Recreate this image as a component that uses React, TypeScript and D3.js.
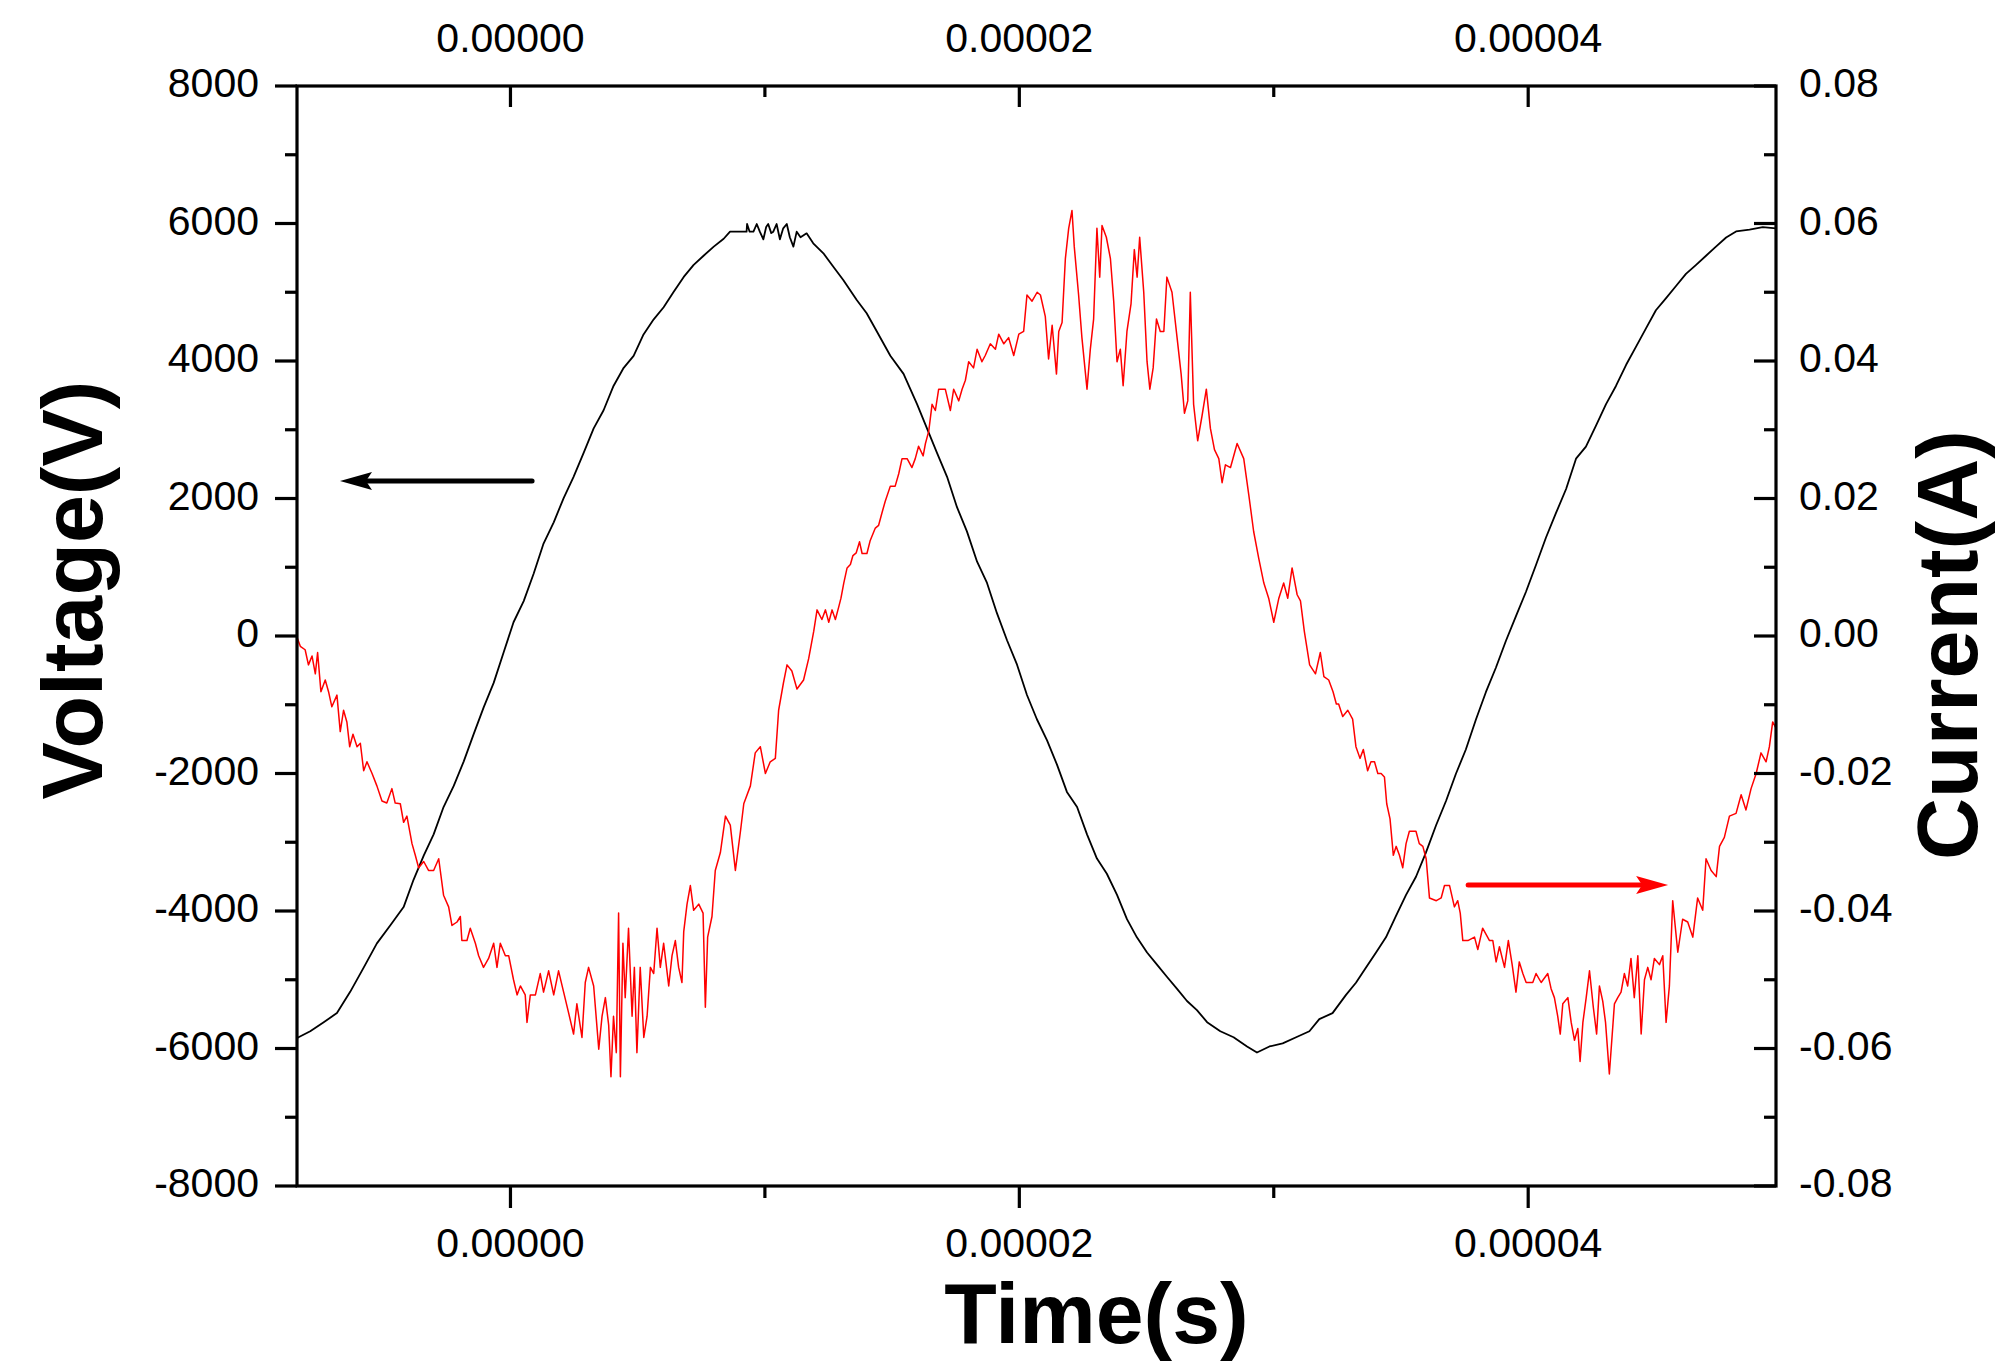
import React, { useEffect } from "react";
import * as d3 from "d3";

// ---------- layout ----------
const W = 2008;
const H = 1369;
const PLOT = { left: 297, right: 1776, top: 86, bottom: 1186 };
const FONT = "'Liberation Sans', Arial, Helvetica, sans-serif";

// ---------- axes ----------
const timeDomainUs = [-8.39, 49.74];
const voltageDomain = [-8000, 8000];
const currentDomain = [-0.08, 0.08];

const timeMajorUs = [0, 20, 40];
const timeMajorLabels = ["0.00000", "0.00002", "0.00004"];
const timeMinorUs = [10, 30];

const voltageMajor = [8000, 6000, 4000, 2000, 0, -2000, -4000, -6000, -8000];
const voltageLabels = ["8000", "6000", "4000", "2000", "0", "-2000", "-4000", "-6000", "-8000"];
const voltageMinor = [7000, 5000, 3000, 1000, -1000, -3000, -5000, -7000];

const currentMajor = [0.08, 0.06, 0.04, 0.02, 0, -0.02, -0.04, -0.06, -0.08];
const currentLabels = ["0.08", "0.06", "0.04", "0.02", "0.00", "-0.02", "-0.04", "-0.06", "-0.08"];
const currentMinor = [0.07, 0.05, 0.03, 0.01, -0.01, -0.03, -0.05, -0.07];

// ---------- data: voltage [time in µs, volts] ----------
const voltageSeries: [number, number][] = [
  [-8.39, -5850], [-8.33, -5837], [-7.87, -5749], [-7.34, -5617], [-6.82, -5485], [-6.30, -5176],
  [-5.77, -4824], [-5.25, -4471], [-4.72, -4207], [-4.20, -3943], [-3.81, -3546], [-3.41, -3194],
  [-3.02, -2885], [-2.63, -2488], [-2.23, -2180], [-1.84, -1827], [-1.45, -1431], [-1.05, -1034],
  [-0.66, -682], [-0.27, -241], [0.12, 200], [0.52, 508], [0.91, 905], [1.30, 1345], [1.70, 1654],
  [2.09, 2006], [2.48, 2315], [2.88, 2667], [3.27, 3020], [3.66, 3284], [4.05, 3637], [4.45, 3901],
  [4.84, 4075], [5.23, 4386], [5.63, 4606], [6.02, 4782], [6.41, 5003], [6.81, 5223], [7.20, 5399],
  [7.59, 5531], [7.99, 5664], [8.38, 5778], [8.63, 5881], [9.28, 5881], [9.30, 5993], [9.40, 5881],
  [9.55, 5881], [9.68, 5993], [9.80, 5881], [9.94, 5770], [10.05, 5950], [10.13, 5993],
  [10.25, 5860], [10.33, 5881], [10.46, 5993], [10.59, 5770], [10.72, 5930], [10.86, 5993],
  [10.98, 5800], [11.12, 5663], [11.25, 5881], [11.40, 5800], [11.64, 5857], [11.90, 5712],
  [12.30, 5566], [12.69, 5372], [13.08, 5178], [13.61, 4887], [14.00, 4694], [14.33, 4476],
  [14.93, 4077], [15.45, 3813],
  [15.98, 3372], [16.37, 3020], [16.76, 2667], [17.16, 2315], [17.55, 1874], [17.94, 1522],
  [18.34, 1081], [18.73, 772], [19.12, 332], [19.52, -65], [19.91, -417], [20.30, -858],
  [20.69, -1211], [21.09, -1519], [21.48, -1871], [21.87, -2268], [22.27, -2488], [22.66, -2885],
  [23.05, -3238], [23.44, -3458], [23.84, -3766], [24.23, -4119], [24.62, -4383], [25.02, -4603],
  [25.41, -4780], [25.80, -4956], [26.20, -5132], [26.59, -5309], [26.98, -5441], [27.38, -5617],
  [27.90, -5749], [28.42, -5837], [28.95, -5970], [29.34, -6058],
  [29.83, -5970], [30.35, -5926], [30.88, -5837], [31.40, -5749], [31.79, -5573], [32.31, -5485],
  [32.84, -5220], [33.23, -5044], [33.62, -4824], [34.02, -4603], [34.41, -4383], [34.80, -4075],
  [35.20, -3766], [35.59, -3502], [35.98, -3150], [36.38, -2753], [36.77, -2400], [37.16, -2004],
  [37.55, -1651], [37.95, -1211], [38.34, -814], [38.73, -462], [39.13, -65], [39.52, 288],
  [39.91, 640], [40.31, 1037], [40.70, 1433], [41.09, 1786], [41.49, 2138], [41.88, 2579],
  [42.27, 2755], [42.67, 3064], [43.06, 3372], [43.45, 3637], [43.85, 3945], [44.24, 4209],
  [44.63, 4474], [45.02, 4738], [45.42, 4915], [45.81, 5091], [46.20, 5267], [46.60, 5399],
  [46.99, 5531], [47.38, 5664], [47.78, 5796], [48.17, 5884], [48.70, 5910], [49.22, 5946],
  [49.74, 5928],
];

// ---------- data: current [time in µs, amperes] ----------
const currentSeries: [number, number][] = [
  [-8.39, -0.0002], [-8.26, -0.0015], [-8.07, -0.002], [-7.94, -0.0042], [-7.8, -0.0029],
  [-7.67, -0.0055], [-7.58, -0.0024], [-7.45, -0.0081], [-7.28, -0.0064], [-7.15, -0.0081],
  [-7.02, -0.0103], [-6.82, -0.0086], [-6.69, -0.0139], [-6.56, -0.0108], [-6.43, -0.0125],
  [-6.32, -0.0161], [-6.19, -0.0143], [-6.03, -0.0161], [-5.9, -0.0156], [-5.77, -0.0196],
  [-5.64, -0.0183], [-5.44, -0.02], [-5.25, -0.0218], [-5.05, -0.024], [-4.86, -0.0243],
  [-4.66, -0.0222], [-4.53, -0.0243], [-4.33, -0.0244], [-4.2, -0.0271], [-4.07, -0.0262],
  [-3.87, -0.0302], [-3.74, -0.0319], [-3.61, -0.0337], [-3.41, -0.0328], [-3.22, -0.0341],
  [-3.02, -0.0341], [-2.82, -0.0324], [-2.63, -0.0377], [-2.43, -0.0394], [-2.3, -0.0421],
  [-2.1, -0.0416], [-1.97, -0.0408], [-1.91, -0.0443], [-1.71, -0.0443], [-1.58, -0.0425],
  [-1.38, -0.0447], [-1.25, -0.0465], [-1.06, -0.0482], [-0.86, -0.0469], [-0.66, -0.0447],
  [-0.53, -0.0482], [-0.4, -0.0447], [-0.2, -0.0465], [-0.07, -0.0465], [0.12, -0.05],
  [0.26, -0.0522], [0.39, -0.0509], [0.58, -0.0522], [0.65, -0.0562], [0.78, -0.0522],
  [0.98, -0.0522], [1.17, -0.0491], [1.3, -0.0518], [1.5, -0.0487], [1.7, -0.0522],
  [1.89, -0.0487], [2.09, -0.0518], [2.29, -0.0549], [2.48, -0.0579], [2.61, -0.0535],
  [2.81, -0.0584], [2.94, -0.0504], [3.07, -0.0482], [3.27, -0.0509], [3.47, -0.0601],
  [3.6, -0.0553], [3.73, -0.0526], [3.86, -0.0566], [3.95, -0.0641], [4.05, -0.0553],
  [4.16, -0.0606], [4.25, -0.0403], [4.32, -0.0641], [4.42, -0.0447], [4.51, -0.0526],
  [4.64, -0.0425], [4.78, -0.0553], [4.87, -0.0482], [4.97, -0.0606], [5.1, -0.0482],
  [5.24, -0.0584], [5.37, -0.0553], [5.5, -0.0482], [5.63, -0.0491], [5.76, -0.0425],
  [5.89, -0.0482], [6.02, -0.0447], [6.22, -0.0509], [6.35, -0.0465], [6.48, -0.0443],
  [6.61, -0.0482], [6.74, -0.0504], [6.81, -0.043], [6.94, -0.039], [7.07, -0.0363],
  [7.2, -0.0399], [7.4, -0.039], [7.57, -0.0403], [7.66, -0.054], [7.75, -0.0438],
  [7.92, -0.0408], [8.05, -0.0341], [8.25, -0.0315], [8.45, -0.0262], [8.64, -0.0275],
  [8.84, -0.0341], [9.04, -0.0284], [9.17, -0.0244], [9.43, -0.0218], [9.62, -0.017],
  [9.82, -0.0161], [10.02, -0.02], [10.21, -0.0183], [10.41, -0.0178], [10.54, -0.0108],
  [10.73, -0.0068], [10.87, -0.0042], [11.06, -0.0051], [11.26, -0.0077], [11.52, -0.0064],
  [11.72, -0.0033], [11.92, 0.0007],
  [12.05, 0.0038], [12.24, 0.0024], [12.38, 0.0038], [12.51, 0.002], [12.64, 0.0038],
  [12.77, 0.0024], [12.9, 0.0042], [12.99, 0.0055], [13.1, 0.0077], [13.23, 0.0099],
  [13.36, 0.0104], [13.46, 0.0117], [13.59, 0.0121], [13.72, 0.0137], [13.82, 0.012],
  [14.01, 0.012], [14.14, 0.0139], [14.34, 0.0157], [14.47, 0.0161], [14.6, 0.0179],
  [14.73, 0.0196], [14.93, 0.0218], [15.12, 0.0218], [15.26, 0.0236], [15.39, 0.0258],
  [15.59, 0.0258], [15.78, 0.0245], [15.91, 0.0258], [16.04, 0.0276], [16.22, 0.0262],
  [16.31, 0.028], [16.44, 0.0298], [16.57, 0.0337], [16.7, 0.0328], [16.83, 0.0359],
  [17.09, 0.0359], [17.29, 0.0328], [17.42, 0.0359], [17.62, 0.0342], [17.75, 0.0359],
  [17.88, 0.0372], [18.01, 0.0399], [18.2, 0.039], [18.34, 0.0417], [18.53, 0.0399],
  [18.66, 0.0408], [18.86, 0.0425], [19.06, 0.0417], [19.19, 0.0439], [19.39, 0.0425],
  [19.58, 0.0434], [19.78, 0.0408], [19.98, 0.0439], [20.17, 0.0443], [20.3, 0.0496],
  [20.5, 0.0487], [20.7, 0.05], [20.83, 0.0496], [21.02, 0.0465], [21.15, 0.0403],
  [21.29, 0.0452], [21.46, 0.0381], [21.55, 0.0443], [21.68, 0.0456], [21.81, 0.0549],
  [21.94, 0.0593], [22.07, 0.0619], [22.16, 0.0566], [22.33, 0.0496], [22.46, 0.0434],
  [22.66, 0.0359], [22.79, 0.0417], [22.92, 0.0461], [23.05, 0.0593], [23.16, 0.0522],
  [23.25, 0.0597], [23.42, 0.058], [23.58, 0.0549], [23.71, 0.0487], [23.84, 0.0399],
  [23.97, 0.0417], [24.08, 0.0364], [24.23, 0.0443], [24.39, 0.0483], [24.52, 0.0562],
  [24.63, 0.0522], [24.73, 0.058], [24.89, 0.05], [25.02, 0.0399], [25.13, 0.0359],
  [25.26, 0.039], [25.39, 0.0461], [25.54, 0.0443], [25.68, 0.0443], [25.8, 0.0522],
  [26.0, 0.05], [26.2, 0.0434], [26.36, 0.0381], [26.49, 0.0324], [26.62, 0.0342],
  [26.72, 0.05], [26.85, 0.0337], [27.01, 0.0284], [27.18, 0.032], [27.35, 0.0359],
  [27.51, 0.0302], [27.67, 0.0271], [27.84, 0.0258], [27.97, 0.0223], [28.1, 0.0249],
  [28.3, 0.0245], [28.56, 0.028], [28.82, 0.0258], [29.02, 0.0205], [29.21, 0.0152],
  [29.41, 0.0113], [29.61, 0.0077], [29.8, 0.0055], [30.0, 0.002], [30.2, 0.0055],
  [30.39, 0.0077], [30.55, 0.0055], [30.72, 0.0099], [30.92, 0.006], [31.05, 0.0051],
  [31.2, 0.0007], [31.41, -0.0042], [31.64, -0.0055], [31.83, -0.0024], [31.97, -0.0059],
  [32.16, -0.0064], [32.33, -0.0081], [32.46, -0.0099],
  [32.55, -0.0099], [32.71, -0.0117], [32.91, -0.0108], [33.1, -0.0121], [33.23, -0.0161],
  [33.39, -0.0178], [33.52, -0.0165], [33.69, -0.0196], [33.82, -0.0183], [33.96, -0.0183],
  [34.09, -0.02], [34.22, -0.02], [34.35, -0.0205], [34.44, -0.0244], [34.57, -0.0266],
  [34.7, -0.0319], [34.81, -0.0306], [34.94, -0.0319], [35.07, -0.0337], [35.2, -0.0302],
  [35.33, -0.0284], [35.59, -0.0284], [35.72, -0.0302], [35.86, -0.0306], [35.99, -0.0324],
  [36.12, -0.0381], [36.39, -0.0385], [36.58, -0.0381], [36.71, -0.0363], [36.91, -0.0363],
  [37.1, -0.0394], [37.23, -0.0385], [37.33, -0.0403], [37.43, -0.0443], [37.63, -0.0443],
  [37.89, -0.0438], [38.02, -0.0456], [38.21, -0.0425], [38.48, -0.0443], [38.61, -0.0443],
  [38.74, -0.0474], [38.87, -0.0452], [39.07, -0.0482], [39.22, -0.0443], [39.37, -0.0478],
  [39.52, -0.0518], [39.65, -0.0474], [39.79, -0.0491], [39.92, -0.0504], [40.18, -0.0504],
  [40.31, -0.0491], [40.51, -0.0504], [40.77, -0.0491], [40.9, -0.0513], [41.03, -0.0526],
  [41.16, -0.0553], [41.26, -0.0579], [41.36, -0.0535], [41.56, -0.0526], [41.69, -0.0562],
  [41.82, -0.0588], [41.95, -0.0571], [42.04, -0.0619], [42.15, -0.0562], [42.28, -0.0526],
  [42.41, -0.0487], [42.56, -0.054], [42.69, -0.0579], [42.8, -0.0509], [42.93, -0.0531],
  [43.04, -0.0562], [43.19, -0.0637], [43.39, -0.0535], [43.52, -0.0526], [43.65, -0.0518],
  [43.78, -0.0491], [43.91, -0.0509], [44.04, -0.0469], [44.17, -0.0526], [44.31, -0.0465],
  [44.44, -0.0579], [44.57, -0.05], [44.7, -0.0482], [44.83, -0.05], [44.96, -0.0469],
  [45.16, -0.0478], [45.29, -0.0465], [45.42, -0.0562], [45.55, -0.0509], [45.68, -0.0385],
  [45.88, -0.046], [46.07, -0.0412], [46.27, -0.0416], [46.47, -0.0438], [46.66, -0.0381],
  [46.86, -0.0399], [46.99, -0.0324], [47.19, -0.0341], [47.39, -0.035], [47.52, -0.0306],
  [47.71, -0.0293], [47.91, -0.0262], [48.17, -0.0258], [48.37, -0.0231], [48.56, -0.0253],
  [48.76, -0.0222], [48.96, -0.02], [49.15, -0.017], [49.35, -0.0183], [49.48, -0.0161],
  [49.61, -0.0125], [49.74, -0.0134],
];

// ---------- annotation arrows (data units) ----------
const voltageArrow = { fromUs: 0.85, toUs: -6.7, volts: 2255 };
const currentArrow = { fromUs: 37.64, toUs: 45.5, amps: -0.0362 };

export default function App() {
  useEffect(() => {
    document.body.style.margin = "0";
    document.body.style.overflow = "hidden";
  }, []);

  const x = d3
    .scaleLinear()
    .domain(timeDomainUs.map((d) => d * 1e-6))
    .range([PLOT.left, PLOT.right]);
  const yV = d3.scaleLinear().domain(voltageDomain).range([PLOT.bottom, PLOT.top]);
  const yI = d3.scaleLinear().domain(currentDomain).range([PLOT.bottom, PLOT.top]);

  const voltageLine = d3
    .line<[number, number]>()
    .x((d) => x(d[0] * 1e-6))
    .y((d) => yV(d[1]));
  const currentLine = d3
    .line<[number, number]>()
    .x((d) => x(d[0] * 1e-6))
    .y((d) => yI(d[1]));

  const axisW = 3.2;
  const majorLen = 22;
  const minorLen = 12;
  const tickFs = 41;
  const titleFs = 86;

  const arrowHead = (tipX: number, y: number, dir: number) => {
    const len = 32;
    const half = 9;
    return `M${tipX},${y} L${tipX - dir * len},${y - half} L${tipX - dir * (len - 6)},${y} L${tipX - dir * len},${y + half} Z`;
  };

  const vaY = yV(voltageArrow.volts);
  const vaFrom = x(voltageArrow.fromUs * 1e-6);
  const vaTo = x(voltageArrow.toUs * 1e-6);
  const caY = yI(currentArrow.amps);
  const caFrom = x(currentArrow.fromUs * 1e-6);
  const caTo = x(currentArrow.toUs * 1e-6);

  return (
    <svg
      width={W}
      height={H}
      viewBox={`0 0 ${W} ${H}`}
      style={{ position: "absolute", left: 0, top: 0, background: "#fff" }}
      fontFamily={FONT}
    >
      <rect x={0} y={0} width={W} height={H} fill="#fff" />
      <defs>
        <clipPath id="plotClip">
          <rect x={PLOT.left} y={PLOT.top - 2} width={PLOT.right - PLOT.left} height={PLOT.bottom - PLOT.top + 4} />
        </clipPath>
      </defs>

      {/* data lines */}
      <g clipPath="url(#plotClip)" fill="none" strokeLinejoin="round">
        <path d={voltageLine(voltageSeries) || ""} stroke="#000" strokeWidth={1.8} />
        <path d={currentLine(currentSeries) || ""} stroke="#ff0000" strokeWidth={1.5} />
      </g>

      {/* arrows */}
      <g>
        <line x1={vaFrom} y1={vaY} x2={vaTo + 26} y2={vaY} stroke="#000" strokeWidth={5} strokeLinecap="round" />
        <path d={arrowHead(vaTo, vaY, -1)} fill="#000" />
        <line x1={caFrom} y1={caY} x2={caTo - 26} y2={caY} stroke="#ff0000" strokeWidth={5} strokeLinecap="round" />
        <path d={arrowHead(caTo, caY, 1)} fill="#ff0000" />
      </g>

      {/* frame */}
      <rect
        x={PLOT.left}
        y={PLOT.top}
        width={PLOT.right - PLOT.left}
        height={PLOT.bottom - PLOT.top}
        fill="none"
        stroke="#000"
        strokeWidth={axisW}
      />

      {/* left axis: outward ticks */}
      <g stroke="#000" strokeWidth={axisW}>
        {voltageMajor.map((v) => (
          <line key={"lm" + v} x1={PLOT.left - majorLen} x2={PLOT.left} y1={yV(v)} y2={yV(v)} />
        ))}
        {voltageMinor.map((v) => (
          <line key={"ln" + v} x1={PLOT.left - minorLen} x2={PLOT.left} y1={yV(v)} y2={yV(v)} />
        ))}
      </g>
      <g fontSize={tickFs} textAnchor="end" fill="#000">
        {voltageMajor.map((v, i) => (
          <text key={"lt" + v} x={PLOT.left - 38} y={yV(v) + 11}>
            {voltageLabels[i]}
          </text>
        ))}
      </g>

      {/* right axis: inward ticks */}
      <g stroke="#000" strokeWidth={axisW}>
        {currentMajor.map((v) => (
          <line key={"rm" + v} x1={PLOT.right - majorLen} x2={PLOT.right} y1={yI(v)} y2={yI(v)} />
        ))}
        {currentMinor.map((v) => (
          <line key={"rn" + v} x1={PLOT.right - minorLen} x2={PLOT.right} y1={yI(v)} y2={yI(v)} />
        ))}
      </g>
      <g fontSize={tickFs} textAnchor="start" fill="#000">
        {currentMajor.map((v, i) => (
          <text key={"rt" + v} x={PLOT.right + 23} y={yI(v) + 11}>
            {currentLabels[i]}
          </text>
        ))}
      </g>

      {/* bottom axis: outward ticks */}
      <g stroke="#000" strokeWidth={axisW}>
        {timeMajorUs.map((t) => (
          <line key={"bm" + t} x1={x(t * 1e-6)} x2={x(t * 1e-6)} y1={PLOT.bottom} y2={PLOT.bottom + majorLen} />
        ))}
        {timeMinorUs.map((t) => (
          <line key={"bn" + t} x1={x(t * 1e-6)} x2={x(t * 1e-6)} y1={PLOT.bottom} y2={PLOT.bottom + minorLen} />
        ))}
      </g>
      <g fontSize={tickFs} textAnchor="middle" fill="#000">
        {timeMajorUs.map((t, i) => (
          <text key={"bt" + t} x={x(t * 1e-6)} y={1257}>
            {timeMajorLabels[i]}
          </text>
        ))}
      </g>

      {/* top axis: inward ticks */}
      <g stroke="#000" strokeWidth={axisW}>
        {timeMajorUs.map((t) => (
          <line key={"tm" + t} x1={x(t * 1e-6)} x2={x(t * 1e-6)} y1={PLOT.top} y2={PLOT.top + majorLen - 1} />
        ))}
        {timeMinorUs.map((t) => (
          <line key={"tn" + t} x1={x(t * 1e-6)} x2={x(t * 1e-6)} y1={PLOT.top} y2={PLOT.top + minorLen - 1} />
        ))}
      </g>
      <g fontSize={tickFs} textAnchor="middle" fill="#000">
        {timeMajorUs.map((t, i) => (
          <text key={"tt" + t} x={x(t * 1e-6)} y={52}>
            {timeMajorLabels[i]}
          </text>
        ))}
      </g>

      {/* titles */}
      <g fontSize={titleFs} fontWeight="bold" fill="#000" textAnchor="middle">
        <text x={(PLOT.left + PLOT.right) / 2 + 60} y={1343}>
          Time(s)
        </text>
        <text transform={`translate(102, 590) rotate(-90)`}>Voltage(V)</text>
        <text transform={`translate(1977, 645) rotate(-90)`}>Current(A)</text>
      </g>
    </svg>
  );
}
